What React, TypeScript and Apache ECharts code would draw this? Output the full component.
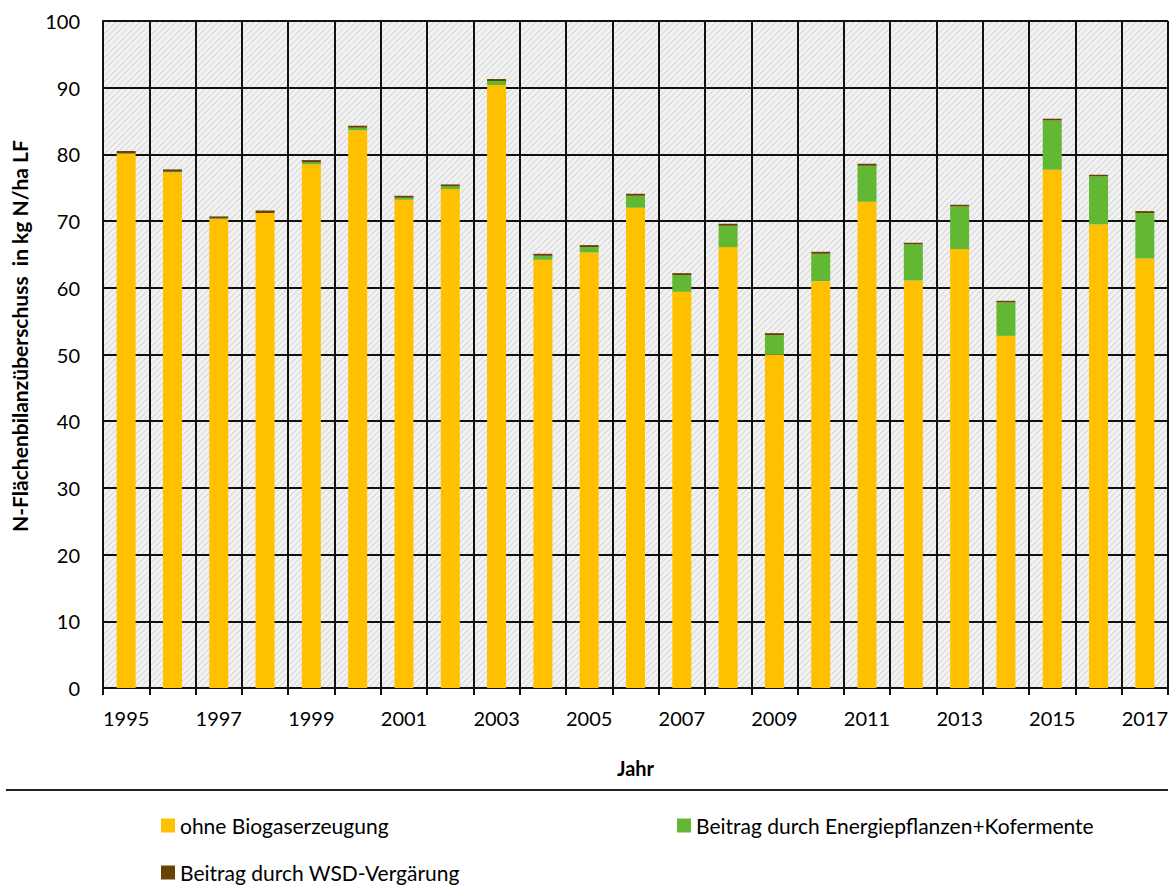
import React, { useEffect, useRef } from "react";
import * as echarts from "echarts";

const years = [
  "1995", "1996", "1997", "1998", "1999", "2000", "2001", "2002", "2003", "2004", "2005", "2006",
  "2007", "2008", "2009", "2010", "2011", "2012", "2013", "2014", "2015", "2016", "2017",
];
const ohneBiogas = [
  80.1, 77.3, 70.3, 71.2, 78.5, 83.6, 73.2, 74.8, 90.4, 64.2, 65.3, 72.0,
  59.4, 66.1, 50.0, 61.0, 72.9, 61.1, 65.8, 52.8, 77.7, 69.5, 64.4,
];
const energiepflanzen = [
  0.05, 0.1, 0.1, 0.0, 0.3, 0.4, 0.3, 0.4, 0.6, 0.6, 0.8, 1.8,
  2.5, 3.2, 2.9, 4.1, 5.4, 5.4, 6.4, 5.0, 7.4, 7.2, 6.8,
];
const wsd = [
  0.35, 0.35, 0.3, 0.4, 0.35, 0.3, 0.3, 0.3, 0.3, 0.3, 0.3, 0.3,
  0.3, 0.3, 0.3, 0.3, 0.3, 0.25, 0.25, 0.25, 0.25, 0.25, 0.3,
];

const names = [
  "ohne Biogaserzeugung",
  "Beitrag durch Energiepflanzen+Kofermente",
  "Beitrag durch WSD-Vergärung",
];
const colors = ["#FFC000", "#62B832", "#6B4206"];

const FONT = "Lato";

const tileSvg =
  "<svg xmlns='http://www.w3.org/2000/svg' width='6' height='6'>" +
  "<rect width='6' height='6' fill='#f3f3f3'/>" +
  "<path d='M-1,1 L1,-1 M0,6 L6,0 M5,7 L7,5' stroke='#dddddd' stroke-width='1.4'/></svg>";
const tileUrl = "data:image/svg+xml;utf8," + encodeURIComponent(tileSvg);

export default function App() {
  const ref = useRef<HTMLDivElement>(null);
  useEffect(() => {
    document.body.style.margin = "0";
    const chart = echarts.init(ref.current!, null, { renderer: "svg" });
    const legendBase = {
      itemWidth: 14,
      itemHeight: 14,
      itemGap: 6,
      icon: "rect",
      textStyle: { fontFamily: FONT, fontSize: 21, color: "#000" },
    };
    chart.setOption({
      animation: false,
      textStyle: { fontFamily: FONT },
      grid: {
        left: 103,
        right: 5,
        top: 21,
        bottom: 198,
        show: true,
        borderWidth: 0,
        backgroundColor: { image: tileUrl, repeat: "repeat", imageWidth: 6, imageHeight: 6 } as any,
      },
      legend: [
        { ...legendBase, data: [names[0]], left: 156, top: 810 },
        { ...legendBase, data: [names[1]], left: 672, top: 810 },
        { ...legendBase, data: [names[2]], left: 156, top: 857 },
      ],
      xAxis: {
        type: "category",
        data: years,
        name: "Jahr",
        nameLocation: "middle",
        nameGap: 70,
        nameTextStyle: { fontFamily: FONT, fontSize: 20, fontWeight: "bold", color: "#000" },
        axisLine: { lineStyle: { color: "#111", width: 2 } },
        axisTick: { show: true, interval: 0, length: 7, lineStyle: { color: "#111", width: 2 } },
        axisLabel: { interval: 1, fontSize: 20, color: "#000", margin: 20, fontFamily: FONT },
        splitLine: { show: true, interval: 0, lineStyle: { color: "#111", width: 2 } },
      },
      yAxis: {
        type: "value",
        min: 0,
        max: 100,
        interval: 10,
        axisLine: { show: true, lineStyle: { color: "#111", width: 2 } },
        axisTick: { show: false },
        axisLabel: { fontSize: 20, color: "#000", margin: 23, fontFamily: FONT },
        splitLine: { show: true, lineStyle: { color: "#111", width: 2 } },
      },
      graphic: [
        {
          type: "text",
          x: 19,
          y: 336,
          rotation: Math.PI / 2,
          style: {
            text: "N-Flächenbilanzüberschuss  in kg N/ha LF",
            fontFamily: FONT,
            fontSize: 21,
            fontWeight: "bold",
            fill: "#000",
            textAlign: "center",
            textVerticalAlign: "middle",
          },
        },
        {
          type: "line",
          shape: { x1: 6, y1: 790, x2: 1168, y2: 790 },
          style: { stroke: "#222", lineWidth: 2 },
        },
      ],
      series: [ohneBiogas, energiepflanzen, wsd].map((d, i) => ({
        name: names[i],
        type: "bar",
        stack: "total",
        data: d,
        barWidth: 19,
        itemStyle: { color: colors[i] },
      })),
    });
    return () => chart.dispose();
  }, []);
  return <div ref={ref} style={{ width: 1173, height: 886 }} />;
}
